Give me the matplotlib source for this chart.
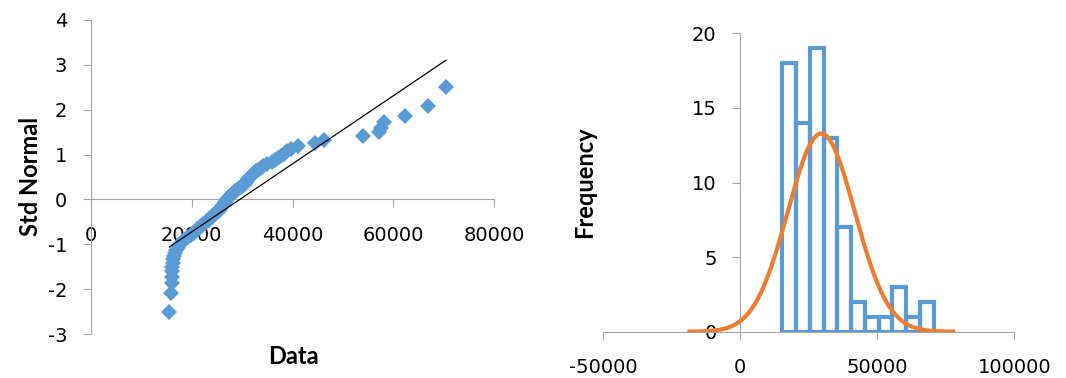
import numpy as np
import matplotlib
matplotlib.use('Agg')
import matplotlib.pyplot as plt
from statistics import NormalDist

plt.rcParams['font.family'] = ['Lato', 'DejaVu Sans']
plt.rcParams['axes.unicode_minus'] = False

# sorted sample values
data = [15600, 16000, 16100, 16100, 16200, 16200, 16300, 16400, 16600, 16800,
        17000, 17300, 17600, 17900, 18300, 18700, 19200, 19800,
        20500, 20800, 21100, 21500, 21900, 22300, 22700, 23100, 23400, 23700,
        24000, 24300, 24600, 25000,
        25500, 25700, 25900, 26100, 26300, 26500, 26700, 26900, 27100, 27300,
        27500, 27800, 28100, 28400, 28700, 29000, 29400, 29800, 30200,
        30500, 30800, 31000, 31200, 31400, 31700, 32000, 32400, 32800, 33200,
        33700, 34200, 34900,
        36000, 36600, 37200, 37800, 38400, 39000, 39700,
        41000, 44400, 46300, 54000, 57200, 57600, 58200, 62300, 66900, 70400]

bin_start = 15370
bin_width = 5020
n_bins = 11

blue = '#5B9BD5'
orange = '#ED7D31'
axis_gray = '#A6A6A6'
tick_font = 'DejaVu Sans'

x = np.array(data, dtype=float)
n = len(x)
z = np.array([NormalDist().inv_cdf((i - 0.5) / n) for i in range(1, n + 1)])
slope, icpt = np.polyfit(x, z, 1)
mu = x.mean()
sd = x.std(ddof=1)
edges = bin_start + bin_width * np.arange(n_bins + 1)

fig = plt.figure(figsize=(10.66, 3.78), dpi=100)
W, H = 1066, 378
ax1 = fig.add_axes([90.7 / W, 1 - 334.3 / H, (494.3 - 90.7) / W, (334.3 - 19.7) / H])
ax2 = fig.add_axes([603.3 / W, 1 - 331.7 / H, (1014.3 - 603.3) / W, (331.7 - 33.3) / H])

# normal probability plot
ax1.plot(x, z, 'D', color=blue, markersize=8.5, markeredgewidth=0, zorder=3)
xl = np.array([x.min(), x.max()])
ax1.plot(xl, slope * xl + icpt, color='black', lw=0.9, zorder=4)
ax1.set_xlim(0, 80000)
ax1.set_ylim(-3, 4)
ax1.set_xticks([0, 20000, 40000, 60000, 80000])
ax1.set_yticks(range(-3, 5))
ax1.spines['bottom'].set_position(('data', 0))
fig.text(30 / W, 1 - 176.5 / H, 'Std Normal', rotation=90, ha='center', va='center',
         fontsize=17, fontweight='bold')
fig.text(293 / W, 1 - 357 / H, 'Data', ha='center', va='center',
         fontsize=17, fontweight='bold')

# histogram with fitted normal curve
ax2.hist(x, bins=edges, fill=False, edgecolor=blue, linewidth=3, zorder=2)
xc = np.linspace(mu - 4 * sd, mu + 4 * sd, 300)
yc = n * bin_width * np.exp(-0.5 * ((xc - mu) / sd) ** 2) / (sd * np.sqrt(2 * np.pi))
ax2.plot(xc, yc, color=orange, lw=3, zorder=3, solid_capstyle='butt')
ax2.set_xlim(-50000, 100000)
ax2.set_ylim(0, 20)
ax2.set_xticks([-50000, 0, 50000, 100000])
ax2.set_yticks([0, 5, 10, 15, 20])
ax2.spines['left'].set_position(('data', 0))
fig.text(585 / W, 1 - 182 / H, 'Frequency', rotation=90, ha='center', va='center',
         fontsize=17, fontweight='bold')

for ax in (ax1, ax2):
    for s in ('top', 'right'):
        ax.spines[s].set_visible(False)
    for s in ('left', 'bottom'):
        ax.spines[s].set_color(axis_gray)
        ax.spines[s].set_linewidth(0.8)
    ax.tick_params(direction='out', length=6, width=0.8, color=axis_gray,
                   labelsize=14, labelcolor='black')
    ax.tick_params(axis='x', pad=13)
    ax.tick_params(axis='y', pad=11)
    for lab in ax.get_xticklabels() + ax.get_yticklabels():
        lab.set_family(tick_font)
    ax.set_facecolor('none')

fig.savefig('out.png', dpi=100)
